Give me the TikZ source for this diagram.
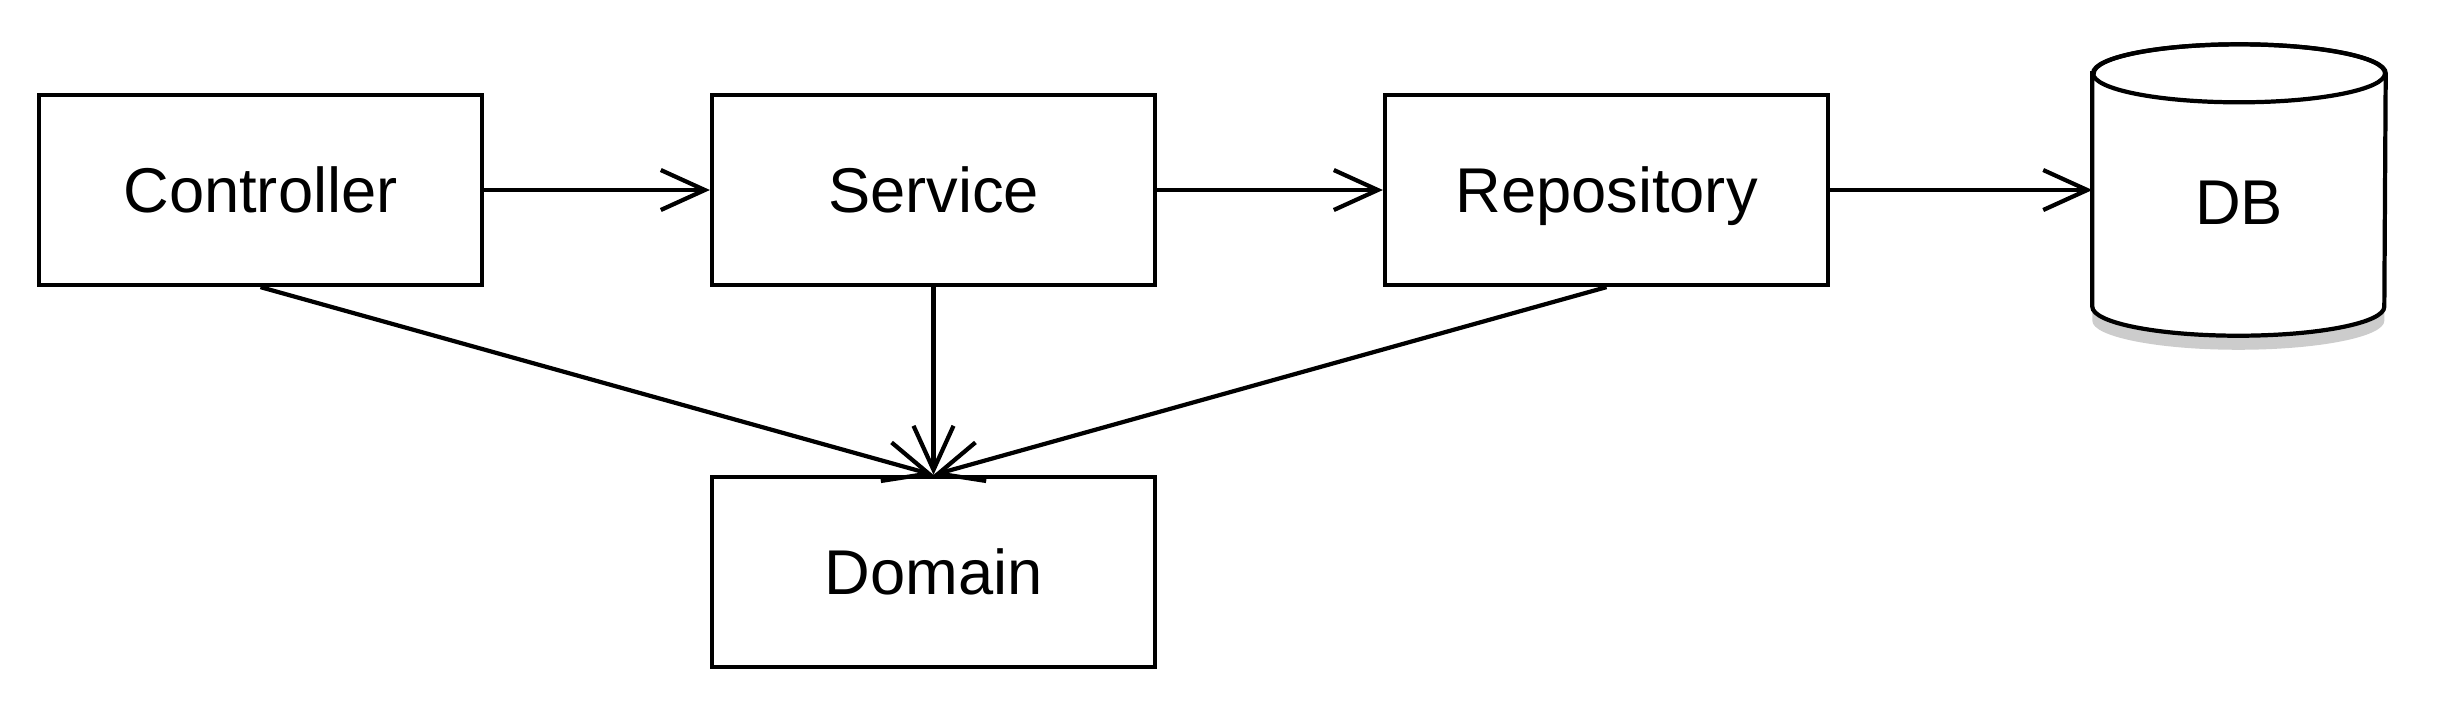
\documentclass[tikz,border=0pt]{standalone}
\usepackage{fontspec}
\setmainfont{Liberation Sans}
\usetikzlibrary{arrows.meta,shadows}

\begin{document}
\begin{tikzpicture}[x=1cm,y=1cm,
  box/.style={draw, line width=1.2pt, minimum width=4.43cm, minimum height=1.9cm,
    text height=12.9pt, text depth=0pt, font=\fontsize{18}{22}\selectfont},
  dep/.style={line width=1.2pt, -{Straight Barb[length=4.4mm,width=4mm]}}]
\useasboundingbox (0,0) rectangle (24.54,-7.06);
\node[box] (ctl) at (2.605,-1.9) {Controller};
\node[box] (svc) at (9.335,-1.9) {Service};
\node[box] (repo) at (16.065,-1.9) {Repository};
\node[box] (dom) at (9.335,-5.72) {Domain};
% DB cylinder, body between the two ellipse centres
\node[minimum width=2.92cm, minimum height=2.32cm, inner sep=0pt] (db) at (22.39,-1.9) {};
\path[draw, line width=1.2pt, fill=white, drop shadow={shadow xshift=0pt, shadow yshift=-4pt, opacity=0.4}]
  (db.north west) -- (db.south west) arc[start angle=180, end angle=360, x radius=1.46cm, y radius=0.29cm]
  -- (db.north east) arc[start angle=0, end angle=180, x radius=1.46cm, y radius=0.29cm] -- cycle;
\draw[line width=1.2pt] (db.north) ellipse[x radius=1.46cm, y radius=0.29cm];
\node[text height=12.9pt, text depth=0pt, font=\fontsize{18}{22}\selectfont] (dbname) at ([yshift=-0.12cm]db.center) {DB};
\draw[dep] (ctl) -- (svc);
\draw[dep] (svc) -- (repo);
\draw[dep] (repo.east) -- (repo.east -| db.west);
\draw[dep] (ctl.south) -- (dom.north);
\draw[dep] (svc.south) -- (dom.north);
\draw[dep] (repo.south) -- (dom.north);
\end{tikzpicture}
\end{document}
